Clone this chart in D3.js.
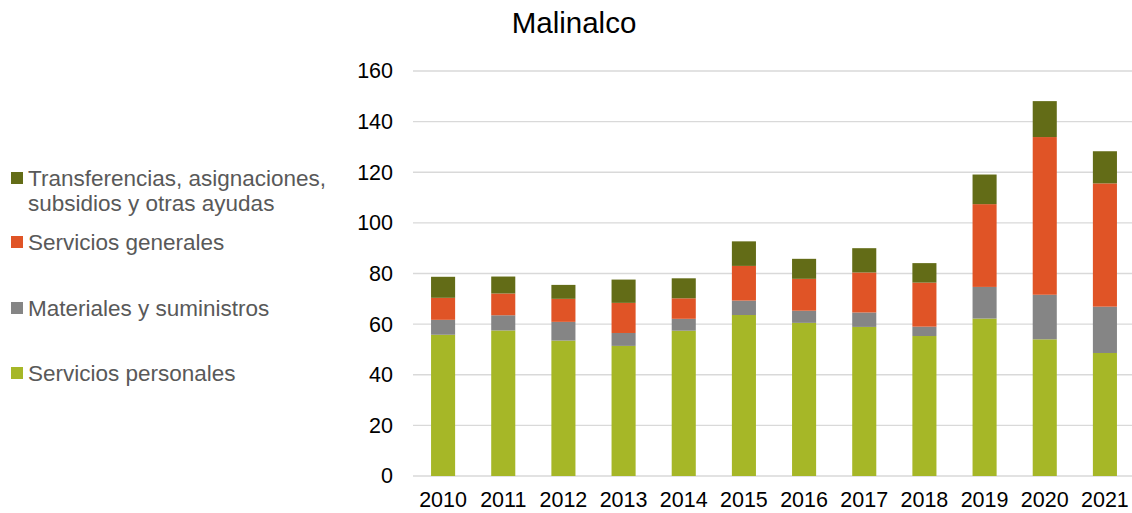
<!DOCTYPE html>
<html>
<head>
<meta charset="utf-8">
<script src="https://cdn.jsdelivr.net/npm/d3@7"></script>
<style>
    body { margin: 0; background: #fff; }
    svg { font-family: "Liberation Sans", Arial, sans-serif; }
</style>
</head>
<body>
<div id="chart"></div>
<script>
// categories and values (millions)
var years = ["2010", "2011", "2012", "2013", "2014", "2015", "2016", "2017", "2018", "2019", "2020", "2021"];
var personales = [55.8, 57.5, 53.5, 51.4, 57.4, 63.6, 60.5, 58.9, 55.3, 62.2, 54.0, 48.6];
var materiales = [5.9, 6.0, 7.4, 5.1, 4.7, 5.7, 4.8, 5.7, 3.7, 12.5, 17.6, 18.3];
var generales = [8.7, 8.6, 9.1, 11.9, 8.1, 13.7, 12.6, 15.8, 17.4, 32.7, 62.3, 48.7];
var transferencias = [8.3, 6.7, 5.5, 9.2, 7.9, 9.7, 7.9, 9.6, 7.7, 11.7, 14.2, 12.7];
var yTicks = [0, 20, 40, 60, 80, 100, 120, 140, 160];

var seriesNames = ["Servicios personales", "Materiales y suministros", "Servicios generales",
    "Transferencias, asignaciones, subsidios y otras ayudas"];
var colors = ["#a6b727", "#858585", "#e05426", "#636c17"];

var width = 1132, height = 513;

var svg = d3.select("#chart").append("svg")
    .attr("width", width)
    .attr("height", height);

// build rows for d3.stack
var rows = years.map(function (y, i) {
    return { year: y, s0: personales[i], s1: materiales[i], s2: generales[i], s3: transferencias[i] };
});
var stacked = d3.stack().keys(["s0", "s1", "s2", "s3"])(rows);

var x = d3.scaleBand().domain(years).range([413, 1135]).paddingInner(0.6).paddingOuter(0.3);
var y = d3.scaleLinear().domain([0, 160]).range([476, 71]);

// gridlines
svg.append("g")
    .selectAll("line")
    .data(yTicks)
    .join("line")
    .attr("x1", 413)
    .attr("x2", 1135)
    .attr("y1", function (d) { return y(d); })
    .attr("y2", function (d) { return y(d); })
    .attr("stroke", "#d9d9d9")
    .attr("stroke-width", 1.3);

// bars
svg.append("g")
    .selectAll("g")
    .data(stacked)
    .join("g")
    .attr("fill", function (d, i) { return colors[i]; })
    .selectAll("rect")
    .data(function (d) { return d; })
    .join("rect")
    .attr("x", function (d) { return x(d.data.year); })
    .attr("width", x.bandwidth())
    .attr("y", function (d) { return y(d[1]); })
    .attr("height", function (d) { return y(d[0]) - y(d[1]); });

// y axis labels
var yAxis = svg.append("g")
    .attr("transform", "translate(401,0)")
    .call(d3.axisLeft(y).tickValues(yTicks).tickSize(0).tickPadding(8));
yAxis.select(".domain").remove();
yAxis.selectAll("text")
    .attr("font-size", 21.5)
    .attr("font-family", "Liberation Sans, Arial, sans-serif")
    .attr("fill", "#000");

// x axis labels
var xAxis = svg.append("g")
    .attr("transform", "translate(0,476)")
    .call(d3.axisBottom(x).tickSize(0).tickPadding(15.5));
xAxis.select(".domain").remove();
xAxis.selectAll("text")
    .attr("font-size", 21.5)
    .attr("font-family", "Liberation Sans, Arial, sans-serif")
    .attr("fill", "#000");

// title
svg.append("text")
    .attr("x", 574)
    .attr("y", 33)
    .attr("text-anchor", "middle")
    .attr("font-size", 29.5)
    .attr("fill", "#000")
    .text("Malinalco");

// legend (top to bottom, reversed series order)
var legendItems = [
    { idx: 3, y: 178, lines: ["Transferencias, asignaciones,", "subsidios y otras ayudas"] },
    { idx: 2, y: 242, lines: ["Servicios generales"] },
    { idx: 1, y: 308, lines: ["Materiales y suministros"] },
    { idx: 0, y: 373, lines: ["Servicios personales"] }
];
var legend = svg.append("g")
    .selectAll("g")
    .data(legendItems)
    .join("g")
    .attr("transform", function (d) { return "translate(0," + d.y + ")"; });

legend.append("rect")
    .attr("x", 11)
    .attr("y", -6)
    .attr("width", 12)
    .attr("height", 12)
    .attr("fill", function (d) { return colors[d.idx]; });

legend.append("text")
    .attr("font-size", 22.5)
    .attr("fill", "#595959")
    .selectAll("tspan")
    .data(function (d) { return d.lines; })
    .join("tspan")
    .attr("x", 28)
    .attr("y", function (d, i) { return i * 25; })
    .attr("dy", "0.35em")
    .text(function (d) { return d; });
</script>
</body>
</html>
